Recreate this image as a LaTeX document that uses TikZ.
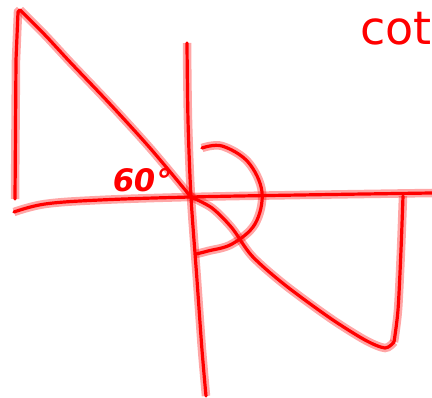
\documentclass[tikz,border=0pt]{standalone}
\usepackage{fontspec}
\newfontfamily\hand{DejaVu Sans}
\begin{document}
\begin{tikzpicture}[x=1pt,y=-1pt,
  pen/.style={draw=red, line width=3.2pt, line cap=round, line join=round,
    preaction={draw, red, opacity=0.35, line width=8.5pt}},
  handtext/.style={text=red, inner sep=0pt, font=\hand}]
\useasboundingbox (0,0) rectangle (432,398);
\clip (0,0) rectangle (432,398);
\coordinate (O) at (191,197);
% left triangle
\draw[pen] (15,199) -- (16,60) -- (18,12) -- (20,10);
\draw[pen] plot[smooth, tension=0.5] coordinates {(20,10) (45,35) (70,62) (110,104) (150,148) (O)};
% horizontal axis
\draw[pen] plot[smooth, tension=0.6] coordinates {(14,212) (45,204) (100,200) (O) (300,195) (432,193)};
% vertical axis
\draw[pen] plot[smooth, tension=0.5] coordinates {(187,43) (188,120) (O) (197,280) (202,350) (206,396)};
% arc
\draw[pen] plot[smooth, tension=0.6] coordinates {(202,148) (222,146) (248,162) (262,192) (255,224) (232,244) (208,251) (196,254)};
% right triangle
\draw[pen] plot[smooth, tension=0.5] coordinates {(O) (212,208) (232,228) (252,256) (285,285) (330,318) (365,340) (385,348) (394,342)};
\draw[pen] plot[smooth, tension=0.5] coordinates {(394,342) (398,310) (401,250) (403,196)};
% labels
\node[handtext, font=\hand\bfseries\fontsize{31}{31}\selectfont, anchor=base west, xslant=0.15] (sixty) at (111,192) {60°};
\node[handtext, font=\hand\fontsize{46}{46}\selectfont, anchor=base west] (cot) at (360,45) {cot};
\end{tikzpicture}
\end{document}
